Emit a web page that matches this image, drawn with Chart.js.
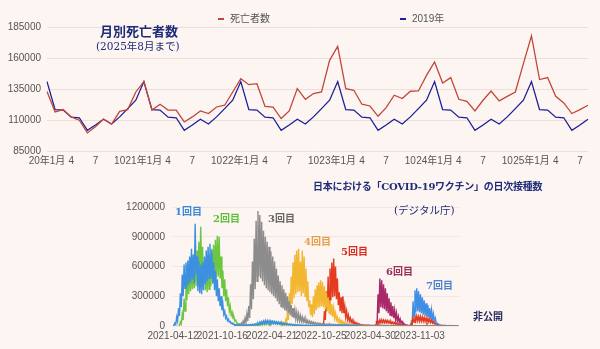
<!DOCTYPE html>
<html lang="ja">
<head>
<meta charset="utf-8">
<script src="https://cdn.jsdelivr.net/npm/chart.js@4.4.1/dist/chart.umd.min.js"></script>
<style>
  html, body { margin: 0; padding: 0; background: #fcf5f2; }
  body { width: 600px; height: 349px; position: relative; overflow: hidden; }
  #deaths-wrap { position: absolute; left: 0; top: 0; width: 600px; height: 172px; }
  #vax-wrap { position: absolute; left: 0; top: 175px; width: 600px; height: 174px; }
  .note {
    position: absolute; white-space: nowrap; line-height: 1;
    font-family: "DejaVu Serif", "Noto Sans CJK JP", serif; font-weight: bold;
  }
  .legend {
    position: absolute; white-space: nowrap; line-height: 1; font-size: 10px; color: #555;
    font-family: "Liberation Sans", "Noto Sans CJK JP", sans-serif;
  }
  .legend i { display: inline-block; width: 6px; height: 2px; margin-right: 6px; vertical-align: middle; }
</style>
</head>
<body>
<div id="deaths-wrap"><canvas id="deaths-chart"></canvas></div>
<div id="vax-wrap"><canvas id="vax-chart"></canvas></div>

<div class="legend" style="left:218px; top:14px;"><i style="background:#c1473b"></i>死亡者数</div>
<div class="legend" style="left:400px; top:14px;"><i style="background:#1e1e96"></i>2019年</div>

<div class="note" style="left:100px; top:25px; font-size:13px; color:#1f2c78;">月別死亡者数</div>
<div class="note" style="left:96px; top:41px; font-size:10.5px; font-weight:normal; color:#1f2c78;">(2025年8月まで)</div>

<div class="note" style="left:313px; top:182px; font-size:10px; letter-spacing:-0.25px; color:#1f2c78;">日本における「COVID-19ワクチン」の日次接種数</div>
<div class="note" style="left:394px; top:205px; font-size:10.5px; font-weight:normal; color:#1f2c78;">(デジタル庁)</div>
<div class="note" style="left:175px; top:207px; font-size:10px; color:#3a86d8;">1回目</div>
<div class="note" style="left:213px; top:214px; font-size:10px; color:#5fbf3a;">2回目</div>
<div class="note" style="left:268px; top:214px; font-size:10px; color:#666;">3回目</div>
<div class="note" style="left:304px; top:237px; font-size:10px; color:#e6a04a;">4回目</div>
<div class="note" style="left:341px; top:247px; font-size:10px; color:#d5301f;">5回目</div>
<div class="note" style="left:386px; top:267px; font-size:10px; color:#9b2c5c;">6回目</div>
<div class="note" style="left:426px; top:281px; font-size:10px; color:#4b82d0;">7回目</div>
<div class="note" style="left:473px; top:312px; font-size:10px; color:#2a2a60;">非公開</div>

<script>
// ---- 月別死亡者数 (2020年1月〜2025年8月) ----
const deaths = [
  133000, 116500, 118400, 112500, 109800, 99600, 104500, 110800, 106600, 117000, 118400, 132600,
  141000, 118000, 122700, 118000, 117900, 108400, 112500, 117300, 115200, 120500, 121900, 132600,
  143300, 138500, 139300, 121000, 120300, 111200, 117300, 135300, 126700, 131300, 132600, 158100,
  169400, 135300, 134000, 122700, 121300, 113000, 120000, 130000, 127300, 133200, 133400, 146000,
  156800, 139900, 144200, 126700, 125100, 117300, 125900, 133400, 125400, 129100, 132600, 155500,
  177800, 142600, 144200, 129100, 123800, 115200, 118400, 121900,
];
// 2019年の月別死亡者数（毎年同じ値を並べて比較）
const deaths2019 = [141000, 118400, 118000, 112300, 111800, 101700, 106000, 110600, 106800, 112500, 119200, 126000];
const years = [20, 21, 22, 23, 24, 25];
const deathYTicks = [85000, 110000, 135000, 160000, 185000];

// ---- ワクチン接種数（千回/日）: 週ごとの平日ピーク(hi)と週末の谷(lo) ----
const vaxStartDate = "2021-04-12";
const vaxLastDay = 1084;
const vaxTickDays = [0, 187, 374, 561, 748, 935];
const vaxYTicks = [0, 300000, 600000, 900000, 1200000];

const dose1Start = 0;
const dose1Hi = [10, 30, 90, 180, 330, 520, 620, 640, 660, 700, 780, 720, 1030, 700, 650, 620, 640, 700, 760, 800,
  830, 760, 640, 560, 470, 380, 300, 220, 150, 100, 70, 45, 30, 20,
  15, 12, 10, 10, 10, 12, 12, 14, 15, 18, 20, 25, 30,
  40, 45, 50, 55, 55, 52, 50, 48, 45, 42, 40, 36,
  32, 28, 25, 22, 20, 18, 16, 14, 12, 10, 9, 8, 8, 7, 7, 6, 6,
  5, 5, 5, 5, 5, 5, 4, 4, 4, 4, 4, 4, 4, 4, 3, 3, 3, 3, 3, 3, 3, 3, 3, 3, 3];
const dose1Lo = [4, 15, 50, 100, 190, 300, 380, 400, 420, 440, 470, 430, 520, 350, 330, 320, 360, 420, 450, 480,
  480, 430, 360, 300, 250, 200, 160, 120, 80, 55, 40, 25, 16, 10,
  8, 6, 5, 5, 5, 6, 6, 7, 8, 9, 10, 12, 15,
  20, 24, 26, 28, 28, 27, 26, 25, 24, 22, 20, 18,
  16, 14, 12, 11, 10, 9, 8, 7, 6, 5, 5, 4, 4, 4, 4, 3, 3,
  3, 3, 3, 3, 3, 3, 2, 2, 2, 2, 2, 2, 2, 2, 2, 2, 2, 2, 2, 2, 2, 2, 2, 2, 2];

const dose2Start = 3;
const dose2Hi = [10, 40, 120, 280, 480, 560, 600, 640, 660, 700, 760, 850, 1000, 800, 650, 620, 660, 720, 780, 820,
  870, 910, 900, 700, 560, 470, 370, 290, 200, 140, 90, 60, 30, 15, 10,
  8, 8, 8, 8, 8, 10, 10, 12, 15, 18, 22, 26, 30, 35, 40, 45, 45, 42, 40, 38,
  35, 32, 28, 25, 22, 20, 18, 15, 12, 10, 9, 8, 7, 6, 6, 5, 5, 5, 4, 4,
  4, 4, 3, 3, 3, 3, 3, 3, 3, 3, 3, 3, 3, 3, 3, 3, 3, 3, 3, 3, 3, 3, 3];
const dose2Lo = [4, 20, 60, 150, 260, 320, 350, 370, 380, 400, 430, 460, 560, 450, 360, 340, 370, 400, 430, 460,
  480, 500, 480, 380, 300, 250, 200, 150, 110, 75, 50, 30, 15, 8, 5,
  4, 4, 4, 4, 4, 5, 5, 6, 8, 9, 11, 13, 15, 18, 20, 22, 22, 21, 20, 19,
  18, 16, 14, 12, 11, 10, 9, 8, 6, 5, 5, 4, 4, 3, 3, 3, 3, 3, 2, 2,
  2, 2, 2, 2, 2, 2, 2, 2, 2, 2, 2, 2, 2, 2, 2, 2, 2, 2, 2, 2, 2, 2, 2];

const dose3Start = 33;
const dose3Hi = [5, 10, 15, 20, 30, 50, 80, 120, 200, 420, 650, 880, 1060, 1160, 1120, 1050, 960, 900, 850, 800,
  750, 700, 650, 580, 510, 450, 410, 370, 335, 300, 250, 210, 180, 160, 140, 120, 105, 90, 78, 66,
  56, 48, 42, 38, 34, 30, 28, 26, 24, 22, 20, 20, 18,
  18, 17, 16, 16, 15, 15, 14, 14, 13, 13, 12, 12, 12, 11, 11, 10, 10, 10, 9, 9,
  9, 8, 8, 8, 8, 7, 7, 7, 7, 6, 6, 6, 6, 6, 5, 5, 5, 5, 5, 5,
  5, 5, 5, 5, 4, 4, 4, 4, 4, 4, 4, 4, 4, 4, 4, 4, 3, 3, 3, 3, 3, 3, 3, 3, 3, 3, 3, 3, 3];
const dose3Lo = [2, 4, 6, 8, 12, 20, 35, 50, 80, 170, 270, 370, 450, 500, 480, 450, 410, 380, 360, 340,
  320, 300, 280, 250, 220, 195, 180, 160, 148, 132, 110, 92, 80, 70, 62, 53, 47, 40, 35, 30,
  26, 22, 19, 17, 15, 13, 12, 11, 10, 9, 8, 8, 7,
  8, 8, 7, 7, 7, 7, 6, 6, 6, 6, 5, 5, 5, 5, 5, 4, 4, 4, 4, 4,
  4, 4, 4, 4, 4, 3, 3, 3, 3, 3, 3, 3, 3, 3, 2, 2, 2, 2, 2, 2,
  2, 2, 2, 2, 2, 2, 2, 2, 2, 2, 2, 2, 2, 2, 2, 2, 1, 1, 1, 1, 1, 1, 1, 1, 1, 1, 1, 1, 1];

const dose4Start = 58;
const dose4Hi = [5, 15, 30, 60, 150, 330, 500, 640, 720, 760, 780, 650, 760, 700, 580, 450, 260, 220, 300, 370,
  410, 440, 460, 440, 400, 340, 290, 260, 220, 180, 130, 90, 70, 55, 45, 35, 28, 20, 15, 12, 10, 8, 6];
const dose4Lo = [2, 6, 12, 25, 60, 140, 220, 280, 320, 340, 350, 300, 330, 300, 250, 190, 110, 90, 120, 160,
  180, 190, 200, 190, 170, 150, 130, 110, 95, 80, 60, 40, 30, 24, 20, 15, 12, 9, 7, 5, 4, 3, 2];

const dose5Start = 81;
const dose5Hi = [20, 150, 350, 500, 580, 640, 680, 600, 480, 340, 290, 300, 200, 150, 110, 80, 60, 45, 35, 28,
  20, 15, 12, 10, 8, 8, 6, 5, 5, 20, 50, 60, 62, 60, 58, 55, 50, 45, 40, 35,
  30, 25, 20, 12, 8, 6, 5, 5, 30, 80, 100, 100, 95, 95, 90, 85, 80, 75, 70, 60,
  45, 30, 12, 6, 5, 5, 4, 4, 4, 3, 3, 3, 3, 3];
const dose5Lo = [8, 60, 150, 220, 260, 290, 300, 270, 210, 150, 130, 130, 90, 65, 50, 36, 27, 20, 15, 12,
  9, 7, 5, 4, 4, 3, 3, 2, 2, 8, 25, 32, 34, 33, 32, 30, 27, 24, 21, 18,
  15, 12, 10, 6, 4, 3, 2, 2, 12, 40, 50, 52, 50, 50, 48, 45, 42, 40, 36, 30,
  22, 15, 6, 3, 2, 2, 2, 2, 2, 1, 1, 1, 1, 1];

const dose6Start = 110;
const dose6Hi = [50, 320, 480, 460, 420, 380, 330, 280, 240, 200, 160, 130, 95, 70, 45, 25, 15, 8, 5];
const dose6Lo = [20, 130, 190, 180, 170, 150, 130, 110, 95, 80, 65, 52, 38, 28, 18, 10, 6, 3, 2];

const dose7Start = 129;
const dose7Hi = [60, 250, 360, 380, 350, 320, 290, 260, 230, 210, 180, 160, 120, 80, 30, 15, 10, 8, 8, 6, 6, 5, 5, 5, 4, 4];
const dose7Lo = [25, 100, 140, 150, 140, 130, 115, 105, 92, 85, 72, 64, 48, 32, 12, 6, 4, 3, 3, 2, 2, 2, 2, 2, 2, 2];

Chart.defaults.font.family = '"Liberation Sans", "Noto Sans CJK JP", sans-serif';
Chart.defaults.font.size = 10;
Chart.defaults.color = "#555";

const monthLabels = [];
years.forEach((y) => {
  for (let m = 1; m <= 12; m++) monthLabels.push(m === 1 ? `${y}年1月` : `${m}`);
});
const labels = monthLabels.slice(0, deaths.length);
const deaths2019Series = labels.map((_, i) => deaths2019[i % 12]);

new Chart("deaths-chart", {
  type: "line",
  data: {
    labels: labels,
    datasets: [
      { label: "死亡者数", data: deaths, borderColor: "#c1473b", borderWidth: 1.3, pointRadius: 0, tension: 0 },
      { label: "2019年", data: deaths2019Series, borderColor: "#1e1e96", borderWidth: 1.3, pointRadius: 0, tension: 0 },
    ],
  },
  options: {
    responsive: true,
    maintainAspectRatio: false,
    animation: false,
    layout: { padding: { left: 0, right: 12, top: 27, bottom: 0 } },
    plugins: { legend: { display: false }, tooltip: { enabled: false } },
    scales: {
      x: {
        grid: { display: false, drawTicks: false },
        border: { display: false },
        afterFit: (scale) => { scale.height = 21; },
        ticks: {
          autoSkip: false,
          maxRotation: 0,
          padding: 4,
          callback: (value, index) => (index % 3 === 0 ? labels[index] : ""),
        },
      },
      y: {
        min: deathYTicks[0],
        max: deathYTicks[deathYTicks.length - 1],
        afterFit: (scale) => { scale.width = 47; },
        afterBuildTicks: (scale) => { scale.ticks = deathYTicks.map((v) => ({ value: v })); },
        grid: { color: "#ecdfdb", drawTicks: false },
        border: { display: false },
        ticks: { padding: 6, callback: (v) => String(v) },
      },
    },
  },
});

function weekly(startWeek, hi, lo) {
  const pts = [];
  hi.forEach((h, i) => {
    const day = (startWeek + i) * 7;
    pts.push({ x: day, y: h * 1000 });
    pts.push({ x: day + 3.5, y: lo[i] * 1000 });
  });
  return pts;
}

function dayLabel(day) {
  const d = new Date(vaxStartDate + "T00:00:00Z");
  d.setUTCDate(d.getUTCDate() + day);
  return d.toISOString().slice(0, 10);
}

const doseSets = [
  ["1回目", dose1Start, dose1Hi, dose1Lo, "#3d8fe0"],
  ["2回目", dose2Start, dose2Hi, dose2Lo, "#6cc63f"],
  ["3回目", dose3Start, dose3Hi, dose3Lo, "#8c8c8c"],
  ["4回目", dose4Start, dose4Hi, dose4Lo, "#f2b630"],
  ["5回目", dose5Start, dose5Hi, dose5Lo, "#e23b1f"],
  ["6回目", dose6Start, dose6Hi, dose6Lo, "#a8286a"],
  ["7回目", dose7Start, dose7Hi, dose7Lo, "#3f8ee6"],
];

new Chart("vax-chart", {
  type: "line",
  data: {
    datasets: doseSets.map(([name, start, hi, lo, color]) => ({
      label: name,
      data: weekly(start, hi, lo),
      borderColor: color,
      borderWidth: 1.4,
      pointRadius: 0,
      tension: 0,
    })),
  },
  options: {
    responsive: true,
    maintainAspectRatio: false,
    animation: false,
    layout: { padding: { left: 0, right: 141, top: 32, bottom: 0 } },
    plugins: { legend: { display: false }, tooltip: { enabled: false } },
    scales: {
      x: {
        type: "linear",
        min: 0,
        max: vaxLastDay,
        grid: { display: false, drawTicks: false },
        border: { display: false },
        afterFit: (scale) => { scale.height = 23; },
        afterBuildTicks: (scale) => { scale.ticks = vaxTickDays.map((v) => ({ value: v })); },
        ticks: { autoSkip: false, maxRotation: 0, padding: 4, callback: (v) => dayLabel(v) },
      },
      y: {
        min: 0,
        max: vaxYTicks[vaxYTicks.length - 1],
        afterFit: (scale) => { scale.width = 173; },
        afterBuildTicks: (scale) => { scale.ticks = vaxYTicks.map((v) => ({ value: v })); },
        grid: { color: "#f1e6e2", drawTicks: false },
        border: { display: false },
        ticks: { padding: 8, callback: (v) => String(v) },
      },
    },
  },
});
</script>
</body>
</html>
